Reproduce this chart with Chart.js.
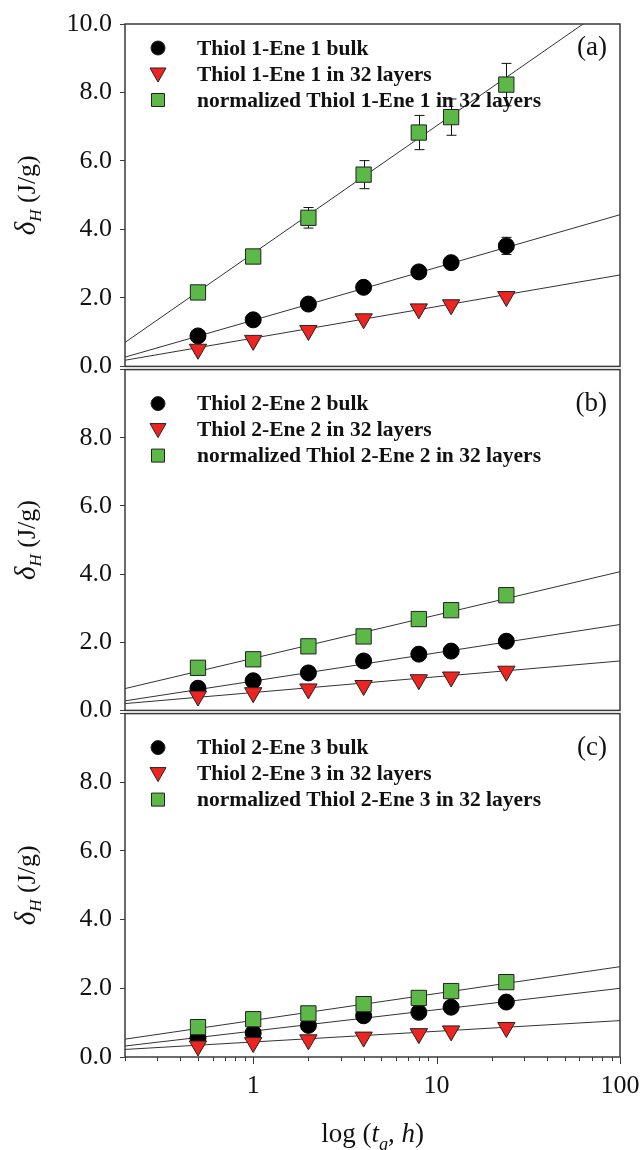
<!DOCTYPE html>
<html>
<head>
<meta charset="utf-8">
<script src="https://cdn.jsdelivr.net/npm/chart.js@4.4.1/dist/chart.umd.min.js"></script>
<style>
  html, body { margin: 0; padding: 0; background: #fff; }
  body { width: 642px; height: 1150px; position: relative; overflow: hidden; }
  canvas { position: absolute; left: 0; }
</style>
</head>
<body>
<canvas id="panelA" width="642" height="390" style="top:0px"></canvas>
<canvas id="panelB" width="642" height="388" style="top:346px"></canvas>
<canvas id="panelC" width="660" height="460" style="top:690px"></canvas>
<script>
// aging time, hours
const agingHours = [0.5, 1, 2, 4, 8, 12, 24];
// x range covered by the fitted lines
const fitEnds = [0.2, 100];
const xTickValues = [0.2, 0.3, 0.4, 0.5, 0.6, 0.7, 0.8, 0.9, 1, 2, 3, 4, 5, 6, 7, 8, 9, 10,
  20, 30, 40, 50, 60, 70, 80, 90, 100];
const xTickLabels = { 1: '1', 10: '10', 100: '100' };

// panel (a) Thiol 1-Ene 1
const bulkA = [0.89, 1.36, 1.82, 2.31, 2.76, 3.03, 3.52];
const bulkErrA = [0, 0, 0, 0, 0, 0, 0.25];
const layersA = [0.50, 0.76, 1.05, 1.39, 1.68, 1.80, 2.04];
const normA = [2.16, 3.21, 4.34, 5.60, 6.83, 7.28, 8.23];
const normErrA = [0, 0.12, 0.30, 0.41, 0.50, 0.53, 0.62];
const bulkFitA = [0.27, 4.43];
const layersFitA = [0.18, 2.67];
const normFitA = [0.70, 10.75];

// panel (b) Thiol 2-Ene 2
const bulkB = [0.65, 0.87, 1.10, 1.45, 1.65, 1.74, 2.03];
const layersB = [0.42, 0.52, 0.63, 0.73, 0.90, 0.98, 1.15];
const normB = [1.25, 1.50, 1.88, 2.17, 2.68, 2.94, 3.38];
const normErrB = [0, 0, 0, 0, 0, 0.08, 0.18];
const bulkFitB = [0.28, 2.52];
const layersFitB = [0.20, 1.45];
const normFitB = [0.64, 4.07];

// panel (c) Thiol 2-Ene 3
const bulkC = [0.55, 0.70, 0.92, 1.20, 1.30, 1.45, 1.60];
const layersC = [0.32, 0.42, 0.50, 0.58, 0.68, 0.76, 0.86];
const normC = [0.87, 1.10, 1.27, 1.54, 1.72, 1.92, 2.18];
const bulkFitC = [0.32, 2.00];
const layersFitC = [0.22, 1.06];
const normFitC = [0.52, 2.63];

const SERIF = "'Liberation Serif', 'Times New Roman', serif";
const AXIS_COLOR = '#3a3a3a';
const BLACK = '#000000';
const RED = '#ee2420';
const GREEN = '#5cb947';

function points(values) {
  return values.map((v, i) => ({ x: agingHours[i], y: v }));
}

function fitLine(ends) {
  return ends.map((v, i) => ({ x: fitEnds[i], y: v }));
}

/**
 * Draw a sequence of text runs (mixed italic / subscript) centred on x
 */
function drawRuns(ctx, runs, x, y) {
  let total = 0;
  runs.forEach(r => { ctx.font = r.font; total += ctx.measureText(r.text).width; });
  let cx = x - total / 2;
  ctx.textAlign = 'left';
  ctx.textBaseline = 'alphabetic';
  runs.forEach(r => {
    ctx.font = r.font;
    ctx.fillText(r.text, cx, y + (r.dy || 0));
    cx += ctx.measureText(r.text).width;
  });
}

function legendMarker(ctx, kind, x, y) {
  ctx.save();
  ctx.lineWidth = 1;
  ctx.strokeStyle = '#222';
  ctx.beginPath();
  if (kind === 'circle') {
    ctx.fillStyle = BLACK;
    ctx.arc(x, y, 7, 0, Math.PI * 2);
  } else if (kind === 'triangle') {
    ctx.fillStyle = RED;
    ctx.moveTo(x - 8, y - 6);
    ctx.lineTo(x + 8, y - 6);
    ctx.lineTo(x, y + 8);
    ctx.closePath();
  } else {
    ctx.fillStyle = GREEN;
    ctx.rect(x - 6.5, y - 6.5, 13, 13);
  }
  ctx.fill();
  ctx.stroke();
  ctx.restore();
}

// frame, error bars, legend, panel letter, axis titles
const panelDecor = {
  id: 'panelDecor',
  beforeDatasetsDraw(chart) {
    const { ctx } = chart;
    const xs = chart.scales.x;
    const ys = chart.scales.y;
    ctx.save();
    ctx.strokeStyle = '#111';
    ctx.lineWidth = 1;
    chart.data.datasets.forEach(ds => {
      if (!ds.errors) return;
      ds.data.forEach((p, i) => {
        const e = ds.errors[i];
        if (!e) return;
        const px = Math.round(xs.getPixelForValue(p.x)) + 0.5;
        const top = ys.getPixelForValue(p.y + e);
        const bot = ys.getPixelForValue(p.y - e);
        ctx.beginPath();
        ctx.moveTo(px, top); ctx.lineTo(px, bot);
        ctx.moveTo(px - 5, top); ctx.lineTo(px + 5, top);
        ctx.moveTo(px - 5, bot); ctx.lineTo(px + 5, bot);
        ctx.stroke();
      });
    });
    ctx.restore();
  },
  afterDraw(chart, args, opts) {
    const { ctx, chartArea: area } = chart;
    ctx.save();
    // frame
    ctx.strokeStyle = AXIS_COLOR;
    ctx.lineWidth = 1.5;
    ctx.strokeRect(area.left, area.top, area.right - area.left, area.bottom - area.top);

    // x ticks on the bottom panel
    if (opts.xAxis) {
      const xs = chart.scales.x;
      ctx.lineWidth = 1;
      ctx.beginPath();
      xTickValues.forEach(v => {
        const px = Math.round(xs.getPixelForValue(v)) + 0.5;
        const len = xTickLabels[v] ? 7 : 4;
        ctx.moveTo(px, area.bottom);
        ctx.lineTo(px, area.bottom + len);
      });
      ctx.stroke();
      ctx.fillStyle = '#111';
      drawRuns(ctx, [
        { text: 'log (', font: `27px ${SERIF}` },
        { text: 't', font: `italic 27px ${SERIF}` },
        { text: 'g', font: `italic 18px ${SERIF}`, dy: 8 },
        { text: ', ', font: `27px ${SERIF}` },
        { text: 'h', font: `italic 27px ${SERIF}` },
        { text: ')', font: `27px ${SERIF}` }
      ], (area.left + area.right) / 2, area.bottom + 85);
    }

    // legend
    ctx.textBaseline = 'middle';
    ctx.textAlign = 'left';
    const kinds = ['circle', 'triangle', 'rect'];
    opts.legend.forEach((label, i) => {
      const y = area.top + opts.legendTop + i * 26;
      legendMarker(ctx, kinds[i], area.left + 33, y);
      ctx.font = `bold 21.5px ${SERIF}`;
      ctx.fillStyle = '#111';
      ctx.fillText(label, area.left + 72, y + 1);
    });

    // panel letter
    ctx.font = `27px ${SERIF}`;
    ctx.textAlign = 'right';
    ctx.textBaseline = 'middle';
    ctx.fillText(opts.letter, area.right - 13, area.top + opts.legendTop);

    // y title, rotated
    ctx.fillStyle = '#111';
    ctx.translate(35, (area.top + area.bottom) / 2);
    ctx.rotate(-Math.PI / 2);
    drawRuns(ctx, [
      { text: '\u03B4', font: `italic 29px ${SERIF}` },
      { text: 'H', font: `italic 17px ${SERIF}`, dy: 6 },
      { text: ' (J/g)', font: `26px ${SERIF}` }
    ], 0, 0);
    ctx.restore();
  }
};

function makePanel(id, cfg) {
  const isBottom = !!cfg.xAxis;
  const datasets = [
    { type: 'line', data: fitLine(cfg.normFit), borderColor: '#333', borderWidth: 1,
      pointRadius: 0, order: 5 },
    { type: 'line', data: fitLine(cfg.bulkFit), borderColor: '#333', borderWidth: 1,
      pointRadius: 0, order: 5 },
    { type: 'line', data: fitLine(cfg.layersFit), borderColor: '#333', borderWidth: 1,
      pointRadius: 0, order: 5 },
    { type: 'scatter', data: points(cfg.bulk), errors: cfg.bulkErr, pointStyle: 'circle',
      pointRadius: 8, backgroundColor: BLACK, borderColor: BLACK, borderWidth: 1, order: 3 },
    { type: 'scatter', data: points(cfg.norm), errors: cfg.normErr, pointStyle: 'rect',
      pointRadius: 10.8, backgroundColor: GREEN, borderColor: '#222', borderWidth: 1, order: 2 },
    { type: 'scatter', data: points(cfg.layers), pointStyle: 'triangle', rotation: 180,
      pointRadius: 10, backgroundColor: RED, borderColor: '#222', borderWidth: 1, order: 1 }
  ];
  return new Chart(document.getElementById(id), {
    type: 'scatter',
    data: { datasets },
    plugins: [panelDecor],
    options: {
      responsive: false,
      animation: false,
      devicePixelRatio: 1,
      events: [],
      layout: {
        padding: { left: 0, right: isBottom ? 40 : 22, top: cfg.padTop, bottom: isBottom ? 0 : 22 }
      },
      plugins: {
        legend: { display: false },
        tooltip: { enabled: false },
        panelDecor: { letter: cfg.letter, legend: cfg.legend, legendTop: cfg.legendTop, xAxis: isBottom }
      },
      scales: {
        x: {
          type: 'logarithmic',
          min: fitEnds[0],
          max: fitEnds[1],
          display: isBottom,
          border: { display: false },
          grid: { display: false },
          afterBuildTicks: scale => { scale.ticks = xTickValues.map(v => ({ value: v })); },
          afterFit: scale => { if (isBottom) scale.height = 93; },
          ticks: {
            autoSkip: false,
            maxRotation: 0,
            padding: 6,
            color: '#111',
            font: { family: SERIF, size: 26 },
            callback: v => xTickLabels[v] || ''
          }
        },
        y: {
          min: 0,
          max: 10,
          border: { display: false },
          grid: { drawOnChartArea: false, drawTicks: true, tickLength: 5, color: AXIS_COLOR },
          afterFit: scale => { scale.width = 125; },
          ticks: {
            stepSize: 2,
            padding: 8,
            color: '#111',
            font: { family: SERIF, size: 26 },
            callback: v => (v === 10 && !cfg.showTop) ? '' : v.toFixed(1)
          }
        }
      }
    }
  });
}

makePanel('panelA', {
  letter: '(a)', showTop: true, padTop: 24, legendTop: 24,
  legend: ['Thiol 1-Ene 1 bulk', 'Thiol 1-Ene 1 in 32 layers', 'normalized Thiol 1-Ene 1 in 32 layers'],
  bulk: bulkA, bulkErr: bulkErrA, layers: layersA, norm: normA, normErr: normErrA,
  bulkFit: bulkFitA, layersFit: layersFitA, normFit: normFitA
});
makePanel('panelB', {
  letter: '(b)', showTop: false, padTop: 22, legendTop: 34,
  legend: ['Thiol 2-Ene 2 bulk', 'Thiol 2-Ene 2 in 32 layers', 'normalized Thiol 2-Ene 2 in 32 layers'],
  bulk: bulkB, layers: layersB, norm: normB, normErr: normErrB,
  bulkFit: bulkFitB, layersFit: layersFitB, normFit: normFitB
});
makePanel('panelC', {
  letter: '(c)', showTop: false, padTop: 22, legendTop: 34, xAxis: true,
  legend: ['Thiol 2-Ene 3 bulk', 'Thiol 2-Ene 3 in 32 layers', 'normalized Thiol 2-Ene 3 in 32 layers'],
  bulk: bulkC, layers: layersC, norm: normC,
  bulkFit: bulkFitC, layersFit: layersFitC, normFit: normFitC
});
</script>
</body>
</html>
